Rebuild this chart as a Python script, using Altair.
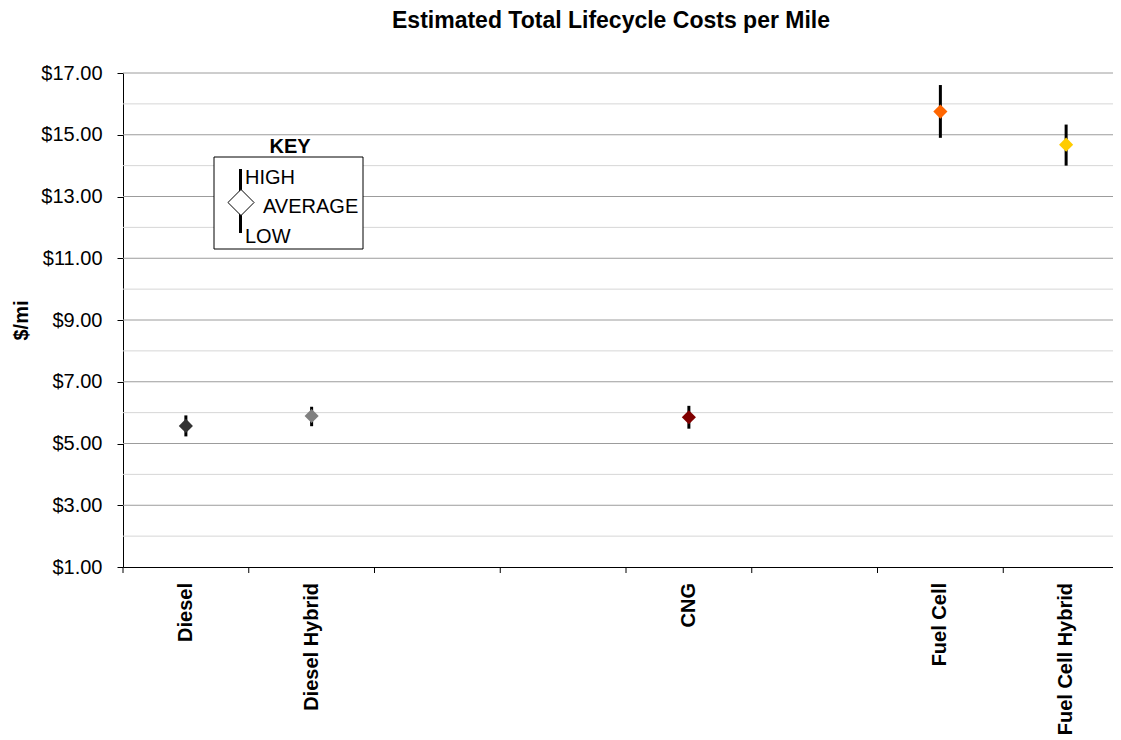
import altair as alt
import pandas as pd

# ---- data ----
slots = ["Diesel", "Diesel Hybrid", " ", "  ", "CNG", "   ", "Fuel Cell", "Fuel Cell Hybrid"]
categories = ["Diesel", "Diesel Hybrid", "CNG", "Fuel Cell", "Fuel Cell Hybrid"]
avg_cost = [5.57, 5.89, 5.85, 15.75, 14.68]
high_cost = [5.91, 6.19, 6.22, 16.61, 15.33]
low_cost = [5.23, 5.56, 5.48, 14.90, 14.00]
colors = ["#333333", "#808080", "#800000", "#FF6600", "#FFCC00"]
major_grid = [3, 5, 7, 9, 11, 13, 15, 17]
minor_grid = [2, 4, 6, 8, 10, 12, 14, 16]
y_labels = [1, 3, 5, 7, 9, 11, 13, 15, 17]

W, H = 990, 494          # visible plot area (page is 1121 wide)
XRANGE = 1006            # full category band range (runs past the page edge)
FONT = "Liberation Sans"

df = pd.DataFrame({"cat": categories, "avg": avg_cost, "high": high_cost, "low": low_cost})
slot_df = pd.DataFrame({"cat": slots})
label_df = pd.DataFrame({"cat": categories})
major_df = pd.DataFrame({"v": major_grid})
minor_df = pd.DataFrame({"v": minor_grid})

xscale = alt.Scale(domain=slots, range=[0, XRANGE], paddingInner=0, paddingOuter=0)
yscale = alt.Scale(domain=[1, 17], nice=False, zero=False)

y_axis = alt.Axis(
    values=y_labels, format="$.2f",
    title="$/mi",
    titleFont=FONT, titleFontSize=20, titleFontWeight="bold", titleColor="black",
    titleX=-102, titleY=H / 2, titleAngle=270, titleAlign="center", titleBaseline="middle",
    labelFont=FONT, labelFontSize=20, labelColor="black", labelPadding=15,
    tickSize=6, tickColor="black",
    domainColor="black", domainWidth=1, grid=False,
)

x_axis = alt.Axis(
    title=None, labels=False, ticks=False, grid=False,
    domainColor="black", domainWidth=1,
)

minor_lines = alt.Chart(minor_df).mark_rule(color="#d6d6d6", strokeWidth=1).encode(
    y=alt.Y("v:Q", scale=yscale, axis=y_axis),
)
major_lines = alt.Chart(major_df).mark_rule(color="#9c9c9c", strokeWidth=1).encode(
    y=alt.Y("v:Q", scale=yscale),
)

base = alt.Chart(df)

bars = base.mark_rule(color="black", strokeWidth=3).encode(
    x=alt.X("cat:N", scale=xscale, axis=x_axis, sort=slots),
    y=alt.Y("low:Q", scale=yscale),
    y2="high:Q",
)

points = base.mark_point(shape="diamond", filled=True, size=200, opacity=1, strokeWidth=0).encode(
    x=alt.X("cat:N", scale=xscale, sort=slots),
    y=alt.Y("avg:Q", scale=yscale),
    color=alt.Color("cat:N", scale=alt.Scale(domain=categories, range=colors), legend=None),
)

ticks = alt.Chart(slot_df).mark_rule(color="black", strokeWidth=1).encode(
    x=alt.X("cat:N", scale=xscale, bandPosition=0, sort=slots),
    y=alt.value(H),
    y2=alt.value(H + 6),
)

xlabels = alt.Chart(label_df).mark_text(
    angle=270, align="right", baseline="middle", font=FONT, fontSize=20,
    fontWeight="bold", color="black",
).encode(
    x=alt.X("cat:N", scale=xscale, sort=slots),
    y=alt.value(H + 16),
    text="cat:N",
)

title = alt.Chart(pd.DataFrame({"t": ["Estimated Total Lifecycle Costs per Mile"]})).mark_text(
    font=FONT, fontSize=23, fontWeight="bold", color="black", align="center", baseline="alphabetic",
).encode(x=alt.value(488), y=alt.value(-45), text="t:N")

# ---- KEY annotation ----
key_df = pd.DataFrame({"k": [0]})
kb = alt.Chart(key_df)
key_box = kb.mark_rect(fill="white", stroke="black", strokeWidth=1).encode(
    x=alt.value(91), x2=alt.value(240), y=alt.value(84), y2=alt.value(176)
)
key_title = kb.mark_text(text="KEY", font=FONT, fontSize=20, fontWeight="bold",
                         align="center", baseline="alphabetic", color="black").encode(
    x=alt.value(167), y=alt.value(80)
)
key_line = kb.mark_rule(color="black", strokeWidth=3).encode(
    x=alt.value(117.5), y=alt.value(96), y2=alt.value(160)
)
key_diamond = kb.mark_point(shape="diamond", filled=True, fill="white", stroke="black",
                            strokeWidth=1, size=680, opacity=1).encode(
    x=alt.value(118), y=alt.value(129.5)
)
key_high = kb.mark_text(text="HIGH", font=FONT, fontSize=20, align="left",
                        baseline="alphabetic", color="black").encode(x=alt.value(122), y=alt.value(111))
key_avg = kb.mark_text(text="AVERAGE", font=FONT, fontSize=20, align="left",
                       baseline="alphabetic", color="black").encode(x=alt.value(140), y=alt.value(140))
key_low = kb.mark_text(text="LOW", font=FONT, fontSize=20, align="left",
                       baseline="alphabetic", color="black").encode(x=alt.value(122), y=alt.value(170))

chart = alt.layer(
    minor_lines, major_lines, bars, points, ticks, xlabels, title,
    key_box, key_title, key_line, key_diamond, key_high, key_avg, key_low
).properties(
    width=W, height=H,
    autosize=alt.AutoSizeParams(type="none"),
    padding={"left": 115, "top": 65, "right": 0, "bottom": 168},
    background="white",
).configure_view(strokeWidth=0)

chart.save("out.html", embed_options={"renderer": "svg", "actions": False})
